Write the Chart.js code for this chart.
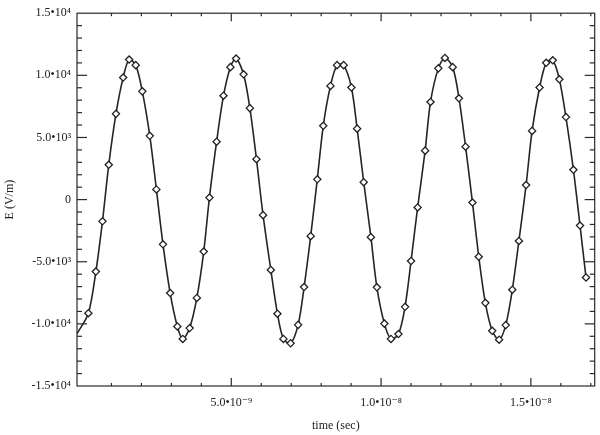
<!DOCTYPE html>
<html>
<head>
<meta charset="utf-8">
<script src="https://cdn.jsdelivr.net/npm/chart.js@4.4.1/dist/chart.umd.min.js"></script>
<style>
  html, body { margin: 0; padding: 0; background: #fff; }
  #wrap { width: 600px; height: 435px; position: relative; }
</style>
</head>
<body>
<div id="wrap"><canvas id="fieldChart"></canvas></div>
<script>
// Sample times (ns) and field values (V/m)
const timeNs = [
  -0.15, 0.23, 0.48, 0.70, 0.91, 1.15, 1.39, 1.59, 1.81, 2.03, 2.28,
  2.50, 2.72, 2.96, 3.20, 3.38, 3.61, 3.85, 4.08, 4.27, 4.51,
  4.74, 4.97, 5.16, 5.41, 5.62, 5.84, 6.06, 6.32, 6.54, 6.74,
  6.98, 7.23, 7.43, 7.65, 7.87, 8.07, 8.31, 8.53, 8.75, 9.01,
  9.20, 9.42, 9.66, 9.86, 10.11, 10.33, 10.58, 10.80, 11.00, 11.22,
  11.47, 11.65, 11.91, 12.13, 12.39, 12.60, 12.82, 13.05, 13.26, 13.48,
  13.71, 13.94, 14.16, 14.38, 14.60, 14.84, 15.04, 15.29, 15.51, 15.73,
  15.95, 16.17, 16.42, 16.64, 16.84
];
const fieldE = [
  -10800, -9140, -5790, -1750, 2800, 6900, 9820, 11270, 10820, 8710, 5130,
  820, -3600, -7520, -10210, -11210, -10340, -7910, -4180, 160, 4660,
  8360, 10660, 11350, 10080, 7360, 3250, -1250, -5660, -9180, -11210,
  -11560, -10080, -7040, -2940, 1630, 5940, 9150, 10820, 10820, 9020,
  5710, 1400, -3020, -7060, -9980, -11210, -10820, -8630, -4940, -630,
  3940, 7860, 10560, 11400, 10660, 8150, 4260, -240, -4600, -8310,
  -10560, -11270, -10100, -7250, -3330, 1170, 5530, 9020, 11010, 11210,
  9680, 6640, 2400, -2090, -6270
];
const yTicks = [-15000, -10000, -5000, 0, 5000, 10000, 15000];
const yLabels = ['-1.5•10⁴', '-1.0•10⁴', '-5.0•10³', '0', '5.0•10³', '1.0•10⁴', '1.5•10⁴'];
const xTicks = [5e-9, 1e-8, 1.5e-8];
const xLabels = ['5.0•10⁻⁹', '1.0•10⁻⁸', '1.5•10⁻⁸'];

const points = timeNs.map((t, i) => ({ x: t * 1e-9, y: fieldE[i] }));
const serif = "'Liberation Serif', 'DejaVu Serif', serif";

// frame with inward ticks on all four sides
const frameTicks = {
  id: 'frameTicks',
  afterDatasetsDraw(chart) {
    const { ctx, chartArea: a, scales: { x, y } } = chart;
    const seg = (x1, y1, x2, y2) => { ctx.beginPath(); ctx.moveTo(x1, y1); ctx.lineTo(x2, y2); ctx.stroke(); };
    ctx.save();
    ctx.strokeStyle = '#2a2a2a';
    ctx.lineWidth = 1.2;
    ctx.strokeRect(a.left, a.top, a.right - a.left, a.bottom - a.top);
    for (let n = 1; n <= 17; n++) {
      const px = x.getPixelForValue(n * 1e-9);
      const len = n % 5 === 0 ? 8 : 3;
      seg(px, a.bottom, px, a.bottom - len);
      seg(px, a.top, px, a.top + len);
    }
    for (let n = -14; n <= 14; n++) {
      const py = y.getPixelForValue(n * 1000);
      const len = n % 5 === 0 ? 10 : 5;
      seg(a.left, py, a.left + len, py);
      seg(a.right, py, a.right - len, py);
    }
    ctx.restore();
  }
};

const ctx = document.getElementById('fieldChart').getContext('2d');
const fieldChart = new Chart(ctx, {
  type: 'line',
  data: {
    datasets: [{
      data: points,
      borderColor: '#252525',
      borderWidth: 1.6,
      tension: 0.3,
      pointStyle: 'rectRot',
      pointRadius: c => c.dataIndex === 0 ? 0 : 3.6,
      pointBackgroundColor: '#fff',
      pointBorderColor: '#222',
      pointBorderWidth: 1.3
    }]
  },
  options: {
    responsive: true,
    maintainAspectRatio: false,
    animation: false,
    layout: { padding: { top: 8, right: 3, left: 0, bottom: 0 } },
    plugins: { legend: { display: false }, tooltip: { enabled: false } },
    scales: {
      x: {
        type: 'linear',
        min: -0.15e-9,
        max: 17.13e-9,
        afterFit: s => { s.height = 49; },
        afterBuildTicks: s => { s.ticks = xTicks.map(v => ({ value: v })); },
        grid: { display: false, drawTicks: false },
        border: { display: false },
        ticks: {
          padding: 10,
          color: '#222',
          font: { family: serif, size: 12 },
          maxRotation: 0,
          callback: v => xLabels[xTicks.indexOf(v)] ?? ''
        },
        title: {
          display: true,
          text: 'time (sec)',
          color: '#222',
          font: { family: serif, size: 12 },
          padding: { top: 4, bottom: 2 }
        }
      },
      y: {
        type: 'linear',
        min: -15000,
        max: 15000,
        afterFit: s => { s.width = 77; },
        afterBuildTicks: s => { s.ticks = yTicks.map(v => ({ value: v })); },
        grid: { display: false, drawTicks: false },
        border: { display: false },
        ticks: {
          padding: 6,
          color: '#222',
          font: { family: serif, size: 12 },
          callback: v => yLabels[yTicks.indexOf(v)] ?? ''
        },
        title: {
          display: true,
          text: 'E (V/m)',
          color: '#222',
          font: { family: serif, size: 12 },
          padding: { top: 3, bottom: 0 }
        }
      }
    }
  },
  plugins: [frameTicks]
});
</script>
</body>
</html>
